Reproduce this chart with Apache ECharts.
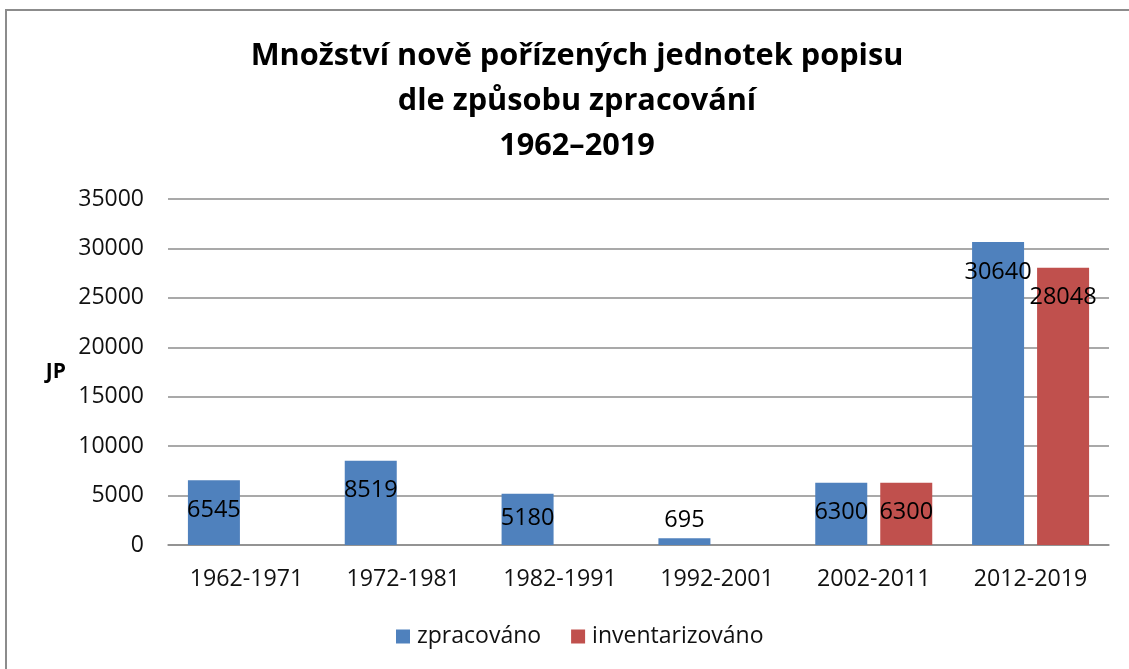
<!DOCTYPE html>
<html>
<head>
<meta charset="utf-8">
<script src="https://cdn.jsdelivr.net/npm/echarts@6/dist/echarts.min.js"></script>
<style>html,body{margin:0;padding:0;background:#fff}#c{width:1129px;height:669px}</style>
</head>
<body>
<div id="c"></div>
<script>
var categories = ['1962-1971', '1972-1981', '1982-1991', '1992-2001', '2002-2011', '2012-2019'];
var zpracovano = [6545, 8519, 5180, 695, 6300, 30640];
var inventarizovano = [null, null, null, null, 6300, 28048];
var seriesNames = ['zpracováno', 'inventarizováno'];
var yTicks = [0, 5000, 10000, 15000, 20000, 25000, 30000, 35000];
var titleText = 'Množství nově pořízených jednotek popisu\ndle způsobu zpracování\n1962–2019';
var yName = 'JP';

var FONT = '"Open Sans", "Liberation Sans", sans-serif';
var chart = echarts.init(document.getElementById('c'), null, {renderer: 'canvas'});

function labelFor(i, v) {
  if (v === 695) return {position: 'top', distance: 6};
  if (v === 5180) return {position: 'insideTop', distance: 13};
  return {position: 'insideTop', distance: 18};
}

function mkData(arr) {
  return arr.map(function (v, i) {
    if (v === null) return null;
    return {value: v, label: labelFor(i, v)};
  });
}

chart.setOption({
  animation: false,
  backgroundColor: '#fff',
  title: {
    text: titleText,
    left: 572,
    textAlign: 'center',
    top: 29,
    textStyle: {fontFamily: FONT, fontWeight: 'bold', fontSize: 30.7, lineHeight: 45, color: '#000'}
  },
  graphic: [{
    type: 'rect', shape: {x: 6, y: 10, width: 1300, height: 900},
    style: {fill: 'none', stroke: '#8c8c8c', lineWidth: 2}, silent: true, z: 100
  }],
  legend: {
    data: seriesNames,
    bottom: 16,
    left: 391,
    itemWidth: 14, itemHeight: 14, itemGap: 30,
    icon: 'rect',
    textStyle: {fontFamily: FONT, fontSize: 23, color: '#111', padding: [0, 0, 0, 2]}
  },
  grid: {left: 168, right: 20, top: 199, bottom: 124},
  xAxis: {
    type: 'category',
    data: categories,
    axisLine: {lineStyle: {color: '#8c8c8c', width: 1.5}},
    axisTick: {show: false},
    axisLabel: {fontFamily: FONT, fontSize: 23.2, color: '#111', margin: 23}
  },
  yAxis: {
    type: 'value',
    min: yTicks[0], max: yTicks[yTicks.length - 1], interval: 5000,
    name: yName,
    nameLocation: 'middle',
    nameRotate: 0,
    nameGap: 102,
    nameTextStyle: {fontFamily: FONT, fontSize: 21, fontWeight: 'bold', color: '#000'},
    axisLine: {show: false},
    axisTick: {show: false},
    splitLine: {lineStyle: {color: '#8c8c8c', width: 1.5}},
    axisLabel: {fontFamily: FONT, fontSize: 23, color: '#111', margin: 24, formatter: function (v) { return String(v); }}
  },
  series: [{
    name: seriesNames[0], type: 'bar', data: mkData(zpracovano),
    barWidth: 52, barGap: '25%',
    itemStyle: {color: '#4F81BD'},
    label: {show: true, fontFamily: FONT, fontSize: 23.5, color: '#000'}
  }, {
    name: seriesNames[1], type: 'bar', data: mkData(inventarizovano),
    barWidth: 52,
    itemStyle: {color: '#C0504D'},
    label: {show: true, fontFamily: FONT, fontSize: 23.5, color: '#000'}
  }]
});
</script>
</body>
</html>
